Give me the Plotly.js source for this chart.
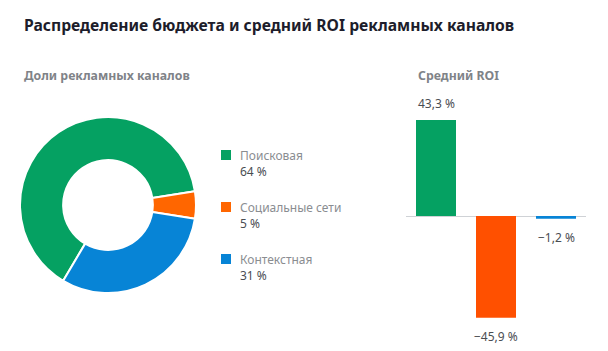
<!DOCTYPE html>
<html>
<head>
<meta charset="utf-8">
<script src="https://cdn.plot.ly/plotly-3.0.1.min.js"></script>
<style>
html,body{margin:0;padding:0;background:#fff;}
#chart{width:608px;height:351px;}
</style>
</head>
<body>
<div id="chart"></div>
<script>
// ---- data ----
const channels = ["Поисковая", "Социальные сети", "Контекстная"];
const shares = [64, 5, 31];
const roi = [43.3, -45.9, -1.2];
const pieColors = ["#05A162", "#FF6600", "#0784D6"];
const barColors = ["#05A162", "#FF5000", "#0784D6"];

const W = 608, H = 351;
const FONT = "Noto Sans, Open Sans, sans-serif";

function fmtPct(v) {
  const s = Math.abs(v).toFixed(Number.isInteger(v) ? 0 : 1).replace(".", ",");
  return (v < 0 ? "\u2212" : "") + s + " %";
}

const pie = {
  type: "pie",
  labels: channels,
  values: shares,
  sort: false,
  direction: "clockwise",
  rotation: 210.6,
  hole: 0.51,
  marker: { colors: pieColors, line: { color: "#ffffff", width: 2 } },
  textinfo: "none",
  hoverinfo: "label+percent",
  showlegend: false,
  domain: { x: [20 / W, 196 / W], y: [1 - 293 / H, 1 - 117 / H] }
};

const bar = {
  type: "bar",
  x: channels,
  y: roi,
  marker: { color: barColors },
  xaxis: "x",
  yaxis: "y",
  showlegend: false,
  hoverinfo: "x+y"
};

const annotations = [];
const shapes = [];

// Chart titles
annotations.push({
  text: "<b>Распределение бюджета и средний ROI рекламных каналов</b>",
  xref: "paper", yref: "paper", x: 22 / W, y: 1 - 25 / H,
  xanchor: "left", yanchor: "middle", showarrow: false,
  font: { family: FONT, size: 15.7, color: "#1d1d2b" }
});
annotations.push({
  text: "<b>Доли рекламных каналов</b>",
  xref: "paper", yref: "paper", x: 22 / W, y: 1 - 76 / H,
  xanchor: "left", yanchor: "middle", showarrow: false,
  font: { family: FONT, size: 12.3, color: "#7f8388" }
});
annotations.push({
  text: "<b>Средний ROI</b>",
  xref: "paper", yref: "paper", x: 416 / W, y: 1 - 76 / H,
  xanchor: "left", yanchor: "middle", showarrow: false,
  font: { family: FONT, size: 12.3, color: "#7f8388" }
});

// Legend (labels + shares)
const legendTop = 155, legendStep = 52;
channels.forEach((c, i) => {
  const yc = legendTop + i * legendStep;
  shapes.push({
    type: "rect", xref: "paper", yref: "paper",
    x0: 221 / W, x1: 231 / W, y0: 1 - (yc + 5) / H, y1: 1 - (yc - 5) / H,
    fillcolor: pieColors[i], line: { width: 0 }
  });
  annotations.push({
    text: "<span style='color:#8a8d91'>" + c + "</span><br><span style='color:#4a4d52'>" + fmtPct(shares[i]) + "</span>",
    xref: "paper", yref: "paper", x: 238 / W, y: 1 - (yc - 10) / H,
    xanchor: "left", yanchor: "top", align: "left", showarrow: false,
    font: { family: FONT, size: 12 }
  });
});

// Bar value labels
roi.forEach((v, i) => {
  annotations.push({
    text: fmtPct(v), xref: "x", yref: "y", x: channels[i], y: v,
    xanchor: "center", yanchor: v >= 0 ? "bottom" : "top",
    yshift: v >= 0 ? 6 : -8, showarrow: false,
    font: { family: FONT, size: 12, color: "#4a4d52" }
  });
});

const layout = {
  width: W, height: H,
  margin: { l: 0, r: 0, t: 0, b: 0 },
  paper_bgcolor: "#ffffff",
  plot_bgcolor: "rgba(0,0,0,0)",
  font: { family: FONT },
  bargap: 1 / 3,
  xaxis: {
    domain: [406 / W, 586 / W], range: [-0.5, 2.5],
    showticklabels: false, showgrid: false, zeroline: false, showline: false, ticks: ""
  },
  yaxis: {
    domain: [0.0688, 0.7004], range: [-50, 50],
    showticklabels: false, showgrid: false,
    zeroline: true, zerolinecolor: "#cfd2d6", zerolinewidth: 1, showline: false, ticks: ""
  },
  annotations: annotations,
  shapes: shapes
};

Plotly.newPlot("chart", [pie, bar], layout, { displayModeBar: false, staticPlot: true });
</script>
</body>
</html>
